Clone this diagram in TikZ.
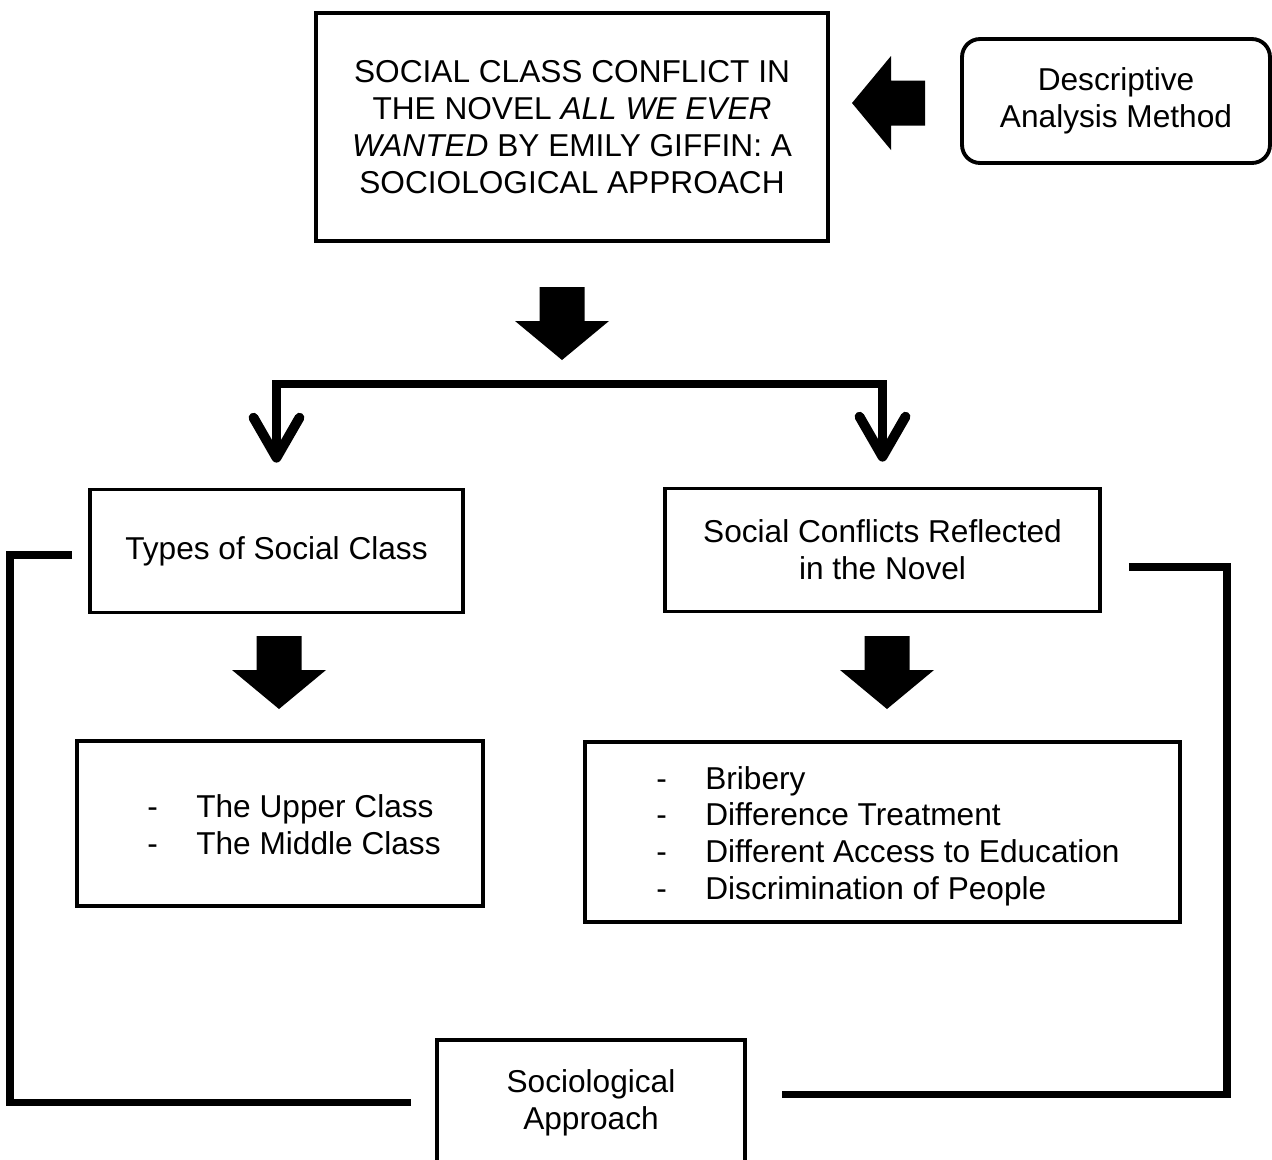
\documentclass[tikz,border=0pt]{standalone}
\usepackage{fontspec}
\setmainfont{Liberation Sans}
\usetikzlibrary{arrows.meta}

\tikzset{
  box/.style={draw, line width=2.2pt, align=center, inner sep=0pt},
  conn/.style={line width=4.2pt},
  branch/.style={line width=4.6pt, -{Straight Barb[length=0.8cm, width=0.92cm, round, line width=5.6pt]}, shorten >=0.5cm},
  fatarrow/.pic={
    \fill (-22.5,0) -- (22.5,0) -- (22.5,34) -- (47,34) -- (0,73) -- (-47,34) -- (-22.5,34) -- cycle;
  }
}

\begin{document}
\begin{tikzpicture}[x=0.02cm, y=-0.02cm, every node/.style={font=\fontsize{18}{21}\selectfont}]
\useasboundingbox (0,0) rectangle (1272,1160);
\clip (0,0) rectangle (1272,1160);

% Title and method
\node[box, minimum width=10.24cm, minimum height=4.56cm] (title) at (572,127)
  {SOCIAL CLASS CONFLICT IN\\THE NOVEL \textit{ALL WE EVER}\\\textit{WANTED} BY EMILY GIFFIN: A\\SOCIOLOGICAL APPROACH};
\node[box, rounded corners=0.36cm, minimum width=6.16cm, minimum height=2.48cm] (method) at (1116,101)
  {Descriptive\\Analysis Method};

% Second row
\node[box, minimum width=7.46cm, minimum height=2.46cm] (types) at (276.5,551) {Types of Social Class};
\node[box, minimum width=8.7cm, minimum height=2.46cm] (conflicts) at (882.5,550) {Social Conflicts Reflected\\in the Novel};

% Lists
\node[box, minimum width=8.12cm, minimum height=3.3cm] (classes) at (280,823.5) {};
\node[anchor=west, inner sep=0pt] (classlist) at (147,829)
  {\begin{tabular}{@{}p{0.98cm}@{}l@{}}- & The Upper Class\\- & The Middle Class\end{tabular}};
\node[box, minimum width=11.9cm, minimum height=3.6cm] (forms) at (882.5,832) {};
\node[anchor=west, inner sep=0pt] (formlist) at (656,837)
  {\begin{tabular}{@{}p{0.98cm}@{}l@{}}- & Bribery\\- & Difference Treatment\\- & Different Access to Education\\- & Discrimination of People\end{tabular}};

% Approach
\node[box, minimum width=6.16cm, minimum height=2.5cm] (approach) at (591,1102.5) {Sociological\\Approach};

% Big arrows
\pic at (562,287) {fatarrow};
\pic at (279,636) {fatarrow};
\pic at (887,636) {fatarrow};
\pic[rotate=-90] at (925,103) {fatarrow};

% Branch to the two boxes
\coordinate (fork) at (585,384);
\draw[branch] (fork) -| (types.north);
\draw[branch] (fork) -| (conflicts.north);

% Lines to the approach
\draw[conn, shorten <=0.32cm, shorten >=0.48cm] ([yshift=-0.08cm]types.west) -- ++(-78,0) |- (approach.west);
\draw[conn, shorten <=0.54cm, shorten >=0.7cm] ([yshift=-0.34cm]conflicts.east) -- ++(125,0) |- ([yshift=0.16cm]approach.east);

\end{tikzpicture}
\end{document}
